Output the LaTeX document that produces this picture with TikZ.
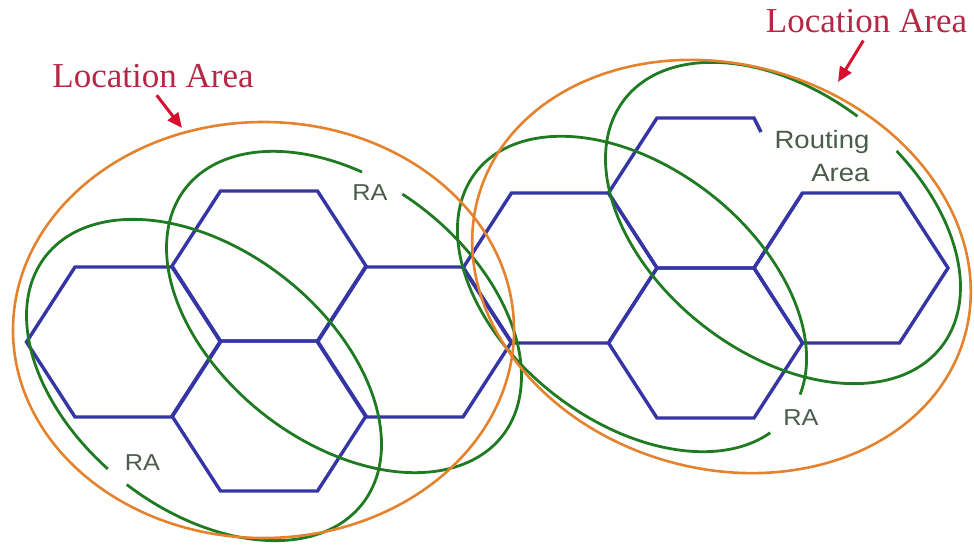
\documentclass[tikz,border=0pt]{standalone}
\usepackage{fontspec}
\usetikzlibrary{arrows.meta}
\newfontfamily\lafont{Liberation Serif}
\newfontfamily\rafont[FakeStretch=1.1]{Liberation Sans}
\definecolor{HexBlue}{HTML}{3535A5}
\definecolor{RAGreen}{HTML}{1F7A22}
\definecolor{LAOrange}{HTML}{E5822E}
\definecolor{LARed}{HTML}{B42846}
\definecolor{ArrowRed}{HTML}{D81030}
\definecolor{RAGray}{HTML}{4A5C4A}
\tikzset{
    hexline/.style={draw=HexBlue, line width=3.4pt},
    rashape/.style={draw=RAGreen, line width=2.8pt},
    lashape/.style={draw=LAOrange, line width=2.6pt},
    latext/.style={text=LARed, font=\lafont\fontsize{35}{38}\selectfont, inner sep=2pt},
    ratext/.style={text=RAGray, font=\rafont\fontsize{23}{33}\selectfont, inner sep=1pt},
    laarrow/.style={draw=ArrowRed, line width=3pt, -{Triangle[length=15pt, width=13pt]}, shorten <=6pt}
}

\begin{document}
\begin{tikzpicture}[x=1pt, y=1pt]
    \path[use as bounding box] (0,0) rectangle (974,544);

    % cells
    \foreach \cx/\cy in {123.5/202, 269/278, 269/128, 414.5/202, 560/276, 705.5/201, 851/276}
        \draw[hexline] (\cx,\cy) ++(-97,0) -- ++(48.5,75) -- ++(97,0) -- ++(48.5,-75)
            -- ++(-48.5,-75) -- ++(-97,0) -- cycle;
    \draw[hexline] (761,412) -- (754,426) -- (657,426) -- (608.5,351) -- (657,276) -- (754,276) -- (802.5,351);

    % routing areas
    \draw[rashape, shift={(204,164)}, rotate=-38] (271:201pt and 130pt)
        arc[start angle=271, end angle=624, x radius=201pt, y radius=130pt];
    \draw[rashape, shift={(344,232)}, rotate=-38] (111:201pt and 130pt)
        arc[start angle=111, end angle=457.6, x radius=201pt, y radius=130pt];
    \draw[rashape, shift={(783,321)}, rotate=-38] (92:201pt and 130pt)
        arc[start angle=92, end angle=437, x radius=201pt, y radius=130pt];
    \draw[rashape, shift={(632,250)}, rotate=-38] (11:198pt and 127pt)
        arc[start angle=11, end angle=349, x radius=198pt, y radius=127pt];

    % location areas
    \draw[lashape] (263.5,214) ellipse[x radius=250.5pt, y radius=208pt];
    \draw[lashape, rotate around={-16.5:(721.5,277.5)}] (721.5,277.5) ellipse[x radius=253pt, y radius=202pt];

    \node[ratext] (rabl) at (142.5,81) {RA};
    \node[ratext] (ratop) at (370,351) {RA};
    \node[ratext] (rabr) at (801,126.5) {RA};
    \node[ratext, align=right, font=\rafont\fontsize{25}{33}\selectfont] (routing) at (822,387.5) {Routing\\Area};

    \node[latext] (lalabell) at (153,467.5) {Location Area};
    \node[latext] (lalabelr) at (866.5,522.5) {Location Area};
    \coordinate (latipl) at (182,416);
    \coordinate (latipr) at (838,462);
    \draw[laarrow] (lalabell.south) -- (latipl);
    \draw[laarrow] (lalabelr.south) -- (latipr);
\end{tikzpicture}
\end{document}
